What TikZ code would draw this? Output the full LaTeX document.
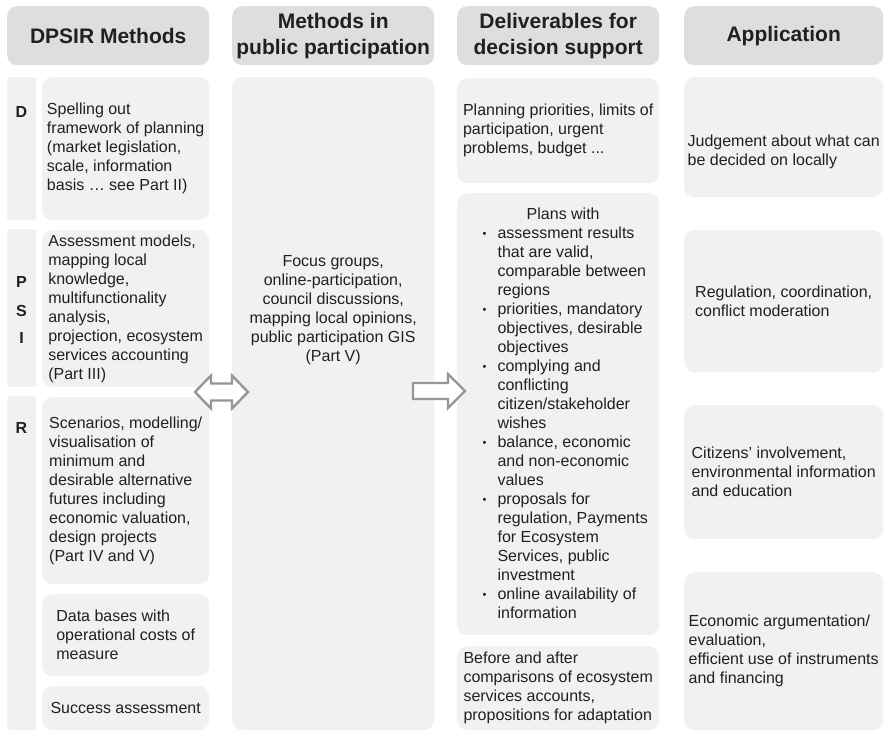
\documentclass[tikz,border=0pt]{standalone}
\usepackage{fontspec}
\setmainfont{Liberation Sans}
\definecolor{headfill}{RGB}{221,222,224}
\definecolor{cellfill}{RGB}{240,241,243}
\definecolor{ink}{RGB}{35,31,32}
\definecolor{arrowgray}{RGB}{150,150,150}
\newcommand\bodyfont{\fontsize{16}{19}\selectfont}
\newcommand\listdot{\raisebox{1.2pt}{\fontsize{11}{19}\selectfont\textbullet}}
\begin{document}
\begin{tikzpicture}[x=1pt,y=-1pt,
  head/.style={fill=headfill, rounded corners=10pt, inner sep=0pt, align=center,
    font=\fontsize{21}{26}\selectfont\bfseries, text=ink, anchor=north west},
  cell/.style={fill=cellfill, rounded corners=10pt, inner sep=0pt, align=left,
    font=\bodyfont, text=ink, anchor=north west},
  strip/.style={fill=cellfill, rounded corners=2pt, inner sep=0pt, anchor=north west},
  letter/.style={font=\bodyfont\bfseries, text=ink, inner sep=0pt},
  txt/.style={font=\bodyfont, text=ink, inner sep=0pt, align=left},
  blockarrow/.style={draw=arrowgray, line width=2.4pt, fill=white, line join=miter}]
\useasboundingbox (0,0) rectangle (884,732);

% column headers
\node[head, minimum width=202pt, minimum height=59pt] (h1) at (7,6) {DPSIR Methods};
\node[head, minimum width=202pt, minimum height=59pt] (h2) at (232,6) {Methods in\\public participation};
\node[head, minimum width=202pt, minimum height=59pt] (h3) at (457,6) {Deliverables for\\decision support};
\node[head, minimum width=199pt, minimum height=59pt] (h4) at (684,6) {Application};

% DPSIR column: letter strips
\node[strip, minimum width=29pt, minimum height=143pt] (sD) at (7,77) {};
\node[strip, minimum width=29pt, minimum height=158pt] (sPSI) at (7,229) {};
\node[strip, minimum width=29pt, minimum height=334pt] (sR) at (7,396) {};
\node[letter] (lD) at (21.5,112) {D};
\node[letter] (lP) at (21.5,282) {P};
\node[letter] (lS) at (21.5,311) {S};
\node[letter] (lI) at (21.5,338) {I};
\node[letter] (lR) at (21.5,428) {R};

% DPSIR column: method boxes
\node[cell, minimum width=167pt, minimum height=143pt] (mD) at (42,77)
  {Spelling out\\framework of planning\\(market legislation,\\scale, information\\basis … see Part II)};
\node[cell, minimum width=167pt, minimum height=157pt] (mPSI) at (42,230)
  {Assessment models,\\mapping local\\knowledge,\\multifunctionality\\analysis,\\projection, ecosystem\\services accounting\\(Part III)};
\node[cell, minimum width=167pt, minimum height=187pt] (mR) at (42,397)
  {Scenarios, modelling/\\visualisation of\\minimum and\\desirable alternative\\futures including\\economic valuation,\\design projects\\(Part IV and V)};
\node[cell, minimum width=167pt, minimum height=82pt] (mData) at (42,594)
  {Data bases with\\operational costs of\\measure};
\node[cell, minimum width=167pt, minimum height=44pt] (mSucc) at (42,686)
  {Success assessment};

% participation column
\node[cell, minimum width=202pt, minimum height=653pt] (part) at (232,77) {};
\node[txt, align=center] (partT) at ([yshift=94pt]part.center)
  {Focus groups,\\online-participation,\\council discussions,\\mapping local opinions,\\public participation GIS\\(Part V)};

% deliverables column
\node[cell, minimum width=202pt, minimum height=105pt] (d1) at (457,78)
  {Planning priorities, limits of\\participation, urgent\\problems, budget ...};
\node[cell, minimum width=202pt, minimum height=442pt] (d2) at (457,193) {};
\node[txt] (d2T) at ([xshift=5pt,yshift=-1pt]d2.center)
  {\begin{tabular}{@{}p{19pt}@{}l@{}}
   \multicolumn{2}{@{}c@{}}{Plans with}\\
   \hspace*{4pt}\listdot & assessment results\\
   & that are valid,\\
   & comparable between\\
   & regions\\
   \hspace*{4pt}\listdot & priorities, mandatory\\
   & objectives, desirable\\
   & objectives\\
   \hspace*{4pt}\listdot & complying and\\
   & conflicting\\
   & citizen/stakeholder\\
   & wishes\\
   \hspace*{4pt}\listdot & balance, economic\\
   & and non-economic\\
   & values\\
   \hspace*{4pt}\listdot & proposals for\\
   & regulation, Payments\\
   & for Ecosystem\\
   & Services, public\\
   & investment\\
   \hspace*{4pt}\listdot & online availability of\\
   & information
  \end{tabular}};
\node[cell, minimum width=202pt, minimum height=84pt] (d3) at (457,646)
  {Before and after\\comparisons of ecosystem\\services accounts,\\propositions for adaptation};

% application column
\node[cell, minimum width=199pt, minimum height=120pt] (a1) at (684,77) {};
\node[txt] (a1T) at ([yshift=-15pt]a1.center) {Judgement about what can\\be decided on locally};
\node[cell, minimum width=199pt, minimum height=142pt] (a2) at (684,230)
  {Regulation, coordination,\\conflict moderation};
\node[cell, minimum width=199pt, minimum height=134pt] (a3) at (684,405)
  {Citizens’ involvement,\\environmental information\\and education};
\node[cell, minimum width=199pt, minimum height=158pt] (a4) at (684,572)
  {Economic argumentation/\\evaluation,\\efficient use of instruments\\and financing};

% block arrows between the columns
\coordinate (dblL) at (195,392);
\coordinate (dblR) at (248,392);
\coordinate (sglL) at (413,391);
\coordinate (sglR) at (465,391);
\draw[blockarrow] (dblL) -- ++(16,-16.5) -- ++(0,8) -- ++(21,0) -- ++(0,-8)
  -- (dblR) -- ++(-16,16.5) -- ++(0,-8) -- ++(-21,0) -- ++(0,8) -- cycle;
\draw[blockarrow] (sglL) ++(0,-8) -- ++(35,0) -- ++(0,-9) -- (sglR) -- ++(-17,17)
  -- ++(0,-9) -- ++(-35,0) -- cycle;
\end{tikzpicture}
\end{document}
